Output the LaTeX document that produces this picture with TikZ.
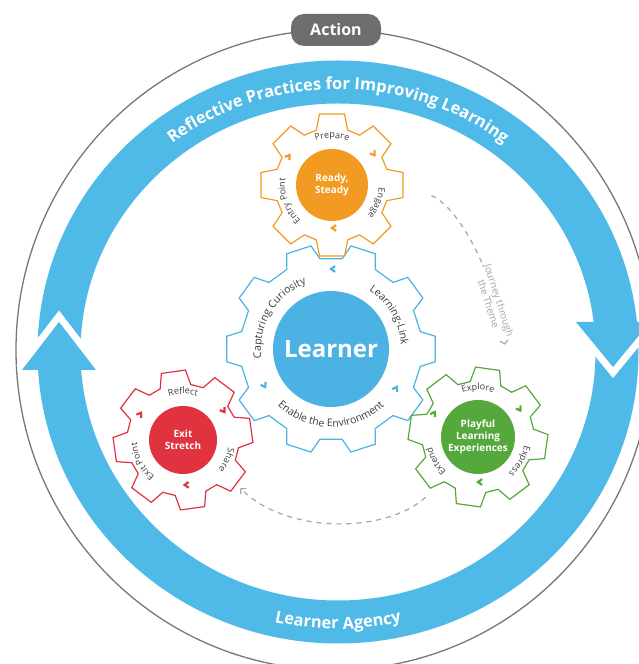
\documentclass[tikz,border=0pt]{standalone}
\usepackage{fontspec}
\setmainfont{Open Sans}
\usetikzlibrary{decorations.text,arrows.meta}

\definecolor{ringblue}{HTML}{4FB9E7}
\definecolor{lrnblue}{HTML}{4BB2E3}
\definecolor{rdyorange}{HTML}{F29A21}
\definecolor{exitred}{HTML}{E0323F}
\definecolor{playgreen}{HTML}{55A93C}
\definecolor{pillgray}{HTML}{6E6E6E}
\definecolor{rimgray}{HTML}{777777}
\definecolor{dashgray}{HTML}{A5A5A5}
\definecolor{labelgray}{HTML}{3C3C3C}

\tikzset{
  gearline/.style={draw=#1, line width=1.2pt, fill=white, line join=miter},
  hub/.style={circle, fill=#1, text=white, align=center, inner sep=0pt,
    font=\bfseries\fontsize{10}{12}\selectfont},
  ringtext/.style={decorate, decoration={text along path, text align=center,
    text color=white, text={|\bfseries\fontsize{16.5}{16.5}\selectfont|#1}}},
  geartext/.style={decorate, decoration={text along path, text align=center,
    text color=labelgray, text={|\fontsize{9}{9}\selectfont|#1}}},
  cogtext/.style={decorate, decoration={text along path, text align=center,
    text color=labelgray, text={|\fontsize{10.5}{10.5}\selectfont|#1}}},
  chevmark/.style={draw=#1, line width=2.2pt},
  notch/.style={draw=white, line width=14pt, line join=miter},
  journey/.style={dashgray, line width=1.2pt, dash pattern=on 5pt off 5pt,
    -{Straight Barb[length=3.5pt,width=8pt]}},
}

% gear outline: colour, centre, teeth, tip radius, root radius,
% tip half angle, base half angle, offset
\newcommand\gear[8]{%
  \draw[gearline=#1] ([shift={({#8-#7}:#5)}]#2)
    \foreach \k in {1,...,#3}{
      -- ([shift={({#8+(\k-1)*360/#3-#7}:#5)}]#2)
      -- ([shift={({#8+(\k-1)*360/#3-#6}:#4)}]#2)
      -- ([shift={({#8+(\k-1)*360/#3+#6}:#4)}]#2)
      -- ([shift={({#8+(\k-1)*360/#3+#7}:#5)}]#2)
    } -- cycle;}

\begin{document}
\begin{tikzpicture}[x=1pt,y=1pt]
\useasboundingbox (0,0) rectangle (639,664);
\clip (0,0) rectangle (639,664);

\coordinate (c-ring) at (338,312);
\coordinate (c-rim) at (334,314);
\coordinate (c-learner) at (331,315);
\coordinate (c-ready) at (332,479);
\coordinate (c-exit) at (183,224);
\coordinate (c-playful) at (478,227);

% outer line and label
\draw[rimgray, line width=1.3pt] (c-rim) ellipse [x radius=318pt, y radius=320pt];
\node[fill=pillgray, rounded corners=13pt, minimum width=90pt, minimum height=32pt,
  text=white, font=\bfseries\fontsize{16}{16}\selectfont] (action) at (336,634) {Action};

% the cycle
\draw[ringblue, line width=43pt] (c-ring) ellipse [x radius=279pt, y radius=270pt];
\draw[notch] (22,294) -- (59,342) -- (96,294);
\fill[ringblue] (22,294) -- (59,342) -- (96,294) -- cycle;
\draw[notch] (576,342) -- (613,297) -- (650,342);
\fill[ringblue] (576,342) -- (613,297) -- (650,342) -- cycle;

\path[ringtext={Reflective Practices for Improving Learning}]
  ([shift={(145:272pt and 263pt)}]c-ring)
  arc[start angle=145, end angle=35, x radius=272pt, y radius=263pt];
\path[ringtext={Learner Agency}]
  ([shift={(245:286pt and 277pt)}]c-ring)
  arc[start angle=245, end angle=295, x radius=286pt, y radius=277pt];

% journeys between the gears
\coordinate (j1) at ([shift={(-6:100)}]c-ready);
\coordinate (j2) at ([shift={(74:96)}]c-playful);
\coordinate (b1) at ([shift={(229:80)}]c-playful);
\coordinate (b2) at ([shift={(-40:75)}]c-exit);
\draw[journey] (j1) .. controls (462,455) and (498,380) .. (j2);
\draw[journey] (b1) .. controls (385,130) and (285,130) .. (b2);
\node[rotate=-72, fill=white, text=dashgray, align=center, inner sep=1pt,
  font=\fontsize{10}{11}\selectfont] (theme) at (494,362)
  {Journey through\\the Theme};

% learner gear
\gear{lrnblue}{c-learner}{10}{105}{91}{7}{11}{0}
\node[hub=lrnblue, minimum size=116pt, font=\bfseries\fontsize{24}{24}\selectfont]
  (learner) at (c-learner) {Learner};
\path[cogtext={Capturing Curiosity}] ([shift={(210:70)}]c-learner)
  arc[start angle=210, end angle=88, radius=70pt];
\path[cogtext={Learning-Link}] ([shift={(75:70)}]c-learner)
  arc[start angle=75, end angle=-15, radius=70pt];
\path[cogtext={Enable the Environment}] ([shift={(208:78)}]c-learner)
  arc[start angle=208, end angle=332, radius=78pt];
\foreach \a/\r in {90/80,210/76,330/76}
  \draw[chevmark=lrnblue] ([shift={(\a:\r)}]c-learner) ++(\a+90+145:5)
    -- ([shift={(\a:\r)}]c-learner) -- ++(\a+90-145:5);

% ready gear
\gear{rdyorange}{c-ready}{8}{72}{57}{10}{16}{0}
\node[hub=rdyorange, minimum size=72pt] (ready) at (c-ready) {Ready,\\Steady};
\path[geartext={Prepare}] ([shift={(125:47)}]c-ready)
  arc[start angle=125, end angle=55, radius=47pt];
\path[geartext={Engage}] ([shift={(13:47)}]c-ready)
  arc[start angle=13, end angle=-57, radius=47pt];
\path[geartext={Entry Point}] ([shift={(248:47)}]c-ready)
  arc[start angle=248, end angle=152, radius=47pt];
\foreach \a/\r in {145/52,35/52,270/43}
  \draw[chevmark=rdyorange] ([shift={(\a:\r)}]c-ready) ++(\a-90+145:5)
    -- ([shift={(\a:\r)}]c-ready) -- ++(\a-90-145:5);

% exit gear
\gear{exitred}{c-exit}{8}{70}{56}{10}{16}{8}
\node[hub=exitred, minimum size=68pt] (exit) at (c-exit) {Exit\\Stretch};
\path[geartext={Reflect}] ([shift={(125:46)}]c-exit)
  arc[start angle=125, end angle=55, radius=46pt];
\path[geartext={Share}] ([shift={(10:46)}]c-exit)
  arc[start angle=10, end angle=-60, radius=46pt];
\path[geartext={Exit Point}] ([shift={(253:46)}]c-exit)
  arc[start angle=253, end angle=162, radius=46pt];
\foreach \a/\r in {147/50,34/50,272/45}
  \draw[chevmark=exitred] ([shift={(\a:\r)}]c-exit) ++(\a-90+145:5)
    -- ([shift={(\a:\r)}]c-exit) -- ++(\a-90-145:5);

% playful gear
\gear{playgreen}{c-playful}{8}{70}{56}{10}{16}{-8}
\node[hub=playgreen, minimum size=74pt] (playful) at (c-playful)
  {Playful\\Learning\\Experiences};
\path[geartext={Explore}] ([shift={(125:47)}]c-playful)
  arc[start angle=125, end angle=55, radius=47pt];
\path[geartext={Express}] ([shift={(5:47)}]c-playful)
  arc[start angle=5, end angle=-65, radius=47pt];
\path[geartext={Extend}] ([shift={(245:47)}]c-playful)
  arc[start angle=245, end angle=175, radius=47pt];
\foreach \a/\r in {150/50,32/50,270/45}
  \draw[chevmark=playgreen] ([shift={(\a:\r)}]c-playful) ++(\a-90+145:5)
    -- ([shift={(\a:\r)}]c-playful) -- ++(\a-90-145:5);
\end{tikzpicture}
\end{document}
